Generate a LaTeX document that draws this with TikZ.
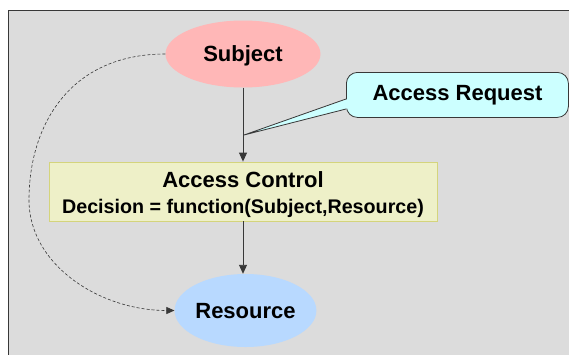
\documentclass[tikz,border=0pt]{standalone}
\usepackage{fontspec}
\setmainfont{Liberation Sans}
\usetikzlibrary{arrows.meta,shapes.geometric}
\definecolor{framegray}{HTML}{DCDCDC}
\definecolor{subjfill}{HTML}{FFB7B7}
\definecolor{resfill}{HTML}{B8D9FF}
\definecolor{callfill}{HTML}{CCFFFF}
\definecolor{acfill}{HTML}{EEF0C8}
\definecolor{acdraw}{HTML}{D4D47C}
\definecolor{linegray}{HTML}{383838}
\begin{document}
\begin{tikzpicture}[x=1pt,y=-1pt,
  ell/.style={ellipse, inner sep=0pt, text height=15.8pt, text depth=0pt,
    font=\bfseries\fontsize{22}{26}\selectfont},
  big/.style={font=\bfseries\fontsize{22}{26}\selectfont, inner sep=0pt},
  flow/.style={draw=linegray, line width=0.9pt, -{Triangle[length=9pt,width=8pt]}},
  dflow/.style={draw=linegray, line width=0.6pt, dash pattern=on 3pt off 2pt,
    -{Triangle[length=8pt,width=7pt]}}
  ]
\useasboundingbox (0,0) rectangle (569,354);
\fill[white] (0,0) rectangle (569,354);
\draw[draw=linegray, fill=framegray, line width=0.9pt] (8.5,10.5) rectangle (600,380);

\node[ell, fill=subjfill, minimum width=155pt, minimum height=67pt] (S) at (243,54) {Subject};
\node[ell, fill=resfill, minimum width=125pt, minimum height=73pt] (R) at (245.5,310.5) {Resource};

\node[draw=acdraw, fill=acfill, line width=0.8pt, minimum width=388pt, minimum height=59pt, inner sep=0pt] (AC) at (243,191.5) {};
\node[big, anchor=base] (ACt) at (243,187.7) {Access Control};
\node[anchor=base, inner sep=0pt, font=\bfseries\fontsize{19.7}{24}\selectfont] (ACd) at (243,213) {Decision = function(Subject,Resource)};

% callout
\node[draw=linegray, fill=callfill, line width=0.8pt, rounded corners=11pt,
  minimum width=222pt, minimum height=45pt, inner sep=0pt, anchor=north west] (AR) at (346,72) {};
\coordinate (tip) at (244,135);
\fill[callfill] (348,99.3) -- (346,99.3) -- (tip) -- (346,108.7) -- (348,108.7) -- cycle;
\draw[linegray, line width=0.8pt, line join=miter] (346,99) -- (tip) -- (346,109);
\node[big, anchor=base] (ARt) at (457.5,100) {Access Request};

\draw[flow] (S.south) -- (AC.north);
\draw[flow] (AC.south) -- (AC.south |- R.north);

\coordinate (M) at (29,200);
\draw[dflow] (S.west) .. controls (70,54) and (29,125) .. (M) .. controls (29,265) and (100,310.5) .. (R.west);
\end{tikzpicture}
\end{document}
